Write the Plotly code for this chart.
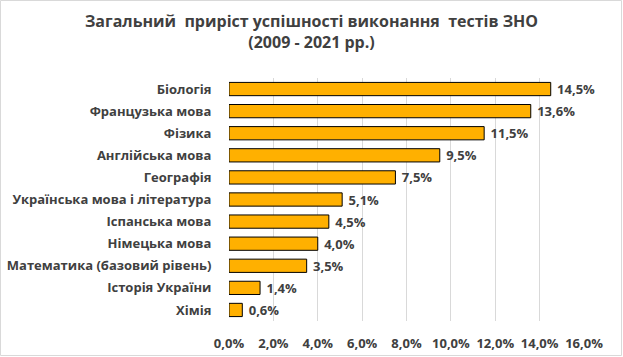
import plotly.graph_objects as go

categories = ["Біологія", "Французька мова", "Фізика", "Англійська мова", "Географія",
              "Українська мова і література", "Іспанська мова", "Німецька мова",
              "Математика (базовий рівень)", "Історія України", "Хімія"]
values = [14.5, 13.6, 11.5, 9.5, 7.5, 5.1, 4.5, 4.0, 3.5, 1.4, 0.6]
tick_values = [0, 2, 4, 6, 8, 10, 12, 14, 16]

def fmt(v):
    return f"{v:.1f}%".replace(".", ",")

FONT = "Open Sans"
DARK = "#404040"

fig = go.Figure(go.Bar(
    y=categories, x=values, orientation="h",
    marker=dict(color="#FFB000", line=dict(color="#000000", width=1)),
    text=["<b> " + fmt(v) + "</b>" for v in values], textposition="outside",
    textfont=dict(family=FONT, size=13, color=DARK), constraintext="none",
    cliponaxis=False, width=0.6,
))

W, H = 623, 357
l, r, t, b = 229, 39, 78, 36
pw, ph = W - l - r, H - t - b

fig.update_layout(
    width=W, height=H,
    margin=dict(l=l, r=r, t=t, b=b, autoexpand=False),
    paper_bgcolor="white", plot_bgcolor="white",
    showlegend=False,
    title=dict(text="<b>Загальний  приріст успішності виконання  тестів ЗНО<br>(2009 - 2021 рр.)</b>",
               x=0.5, xanchor="center", y=0.925, yanchor="top",
               font=dict(family=FONT, size=16, color=DARK)),
    xaxis=dict(range=[0, 16], tickvals=tick_values, ticktext=["<b>" + fmt(v) + "</b>" for v in tick_values],
               showgrid=True, gridcolor="#D9D9D9", gridwidth=1, zeroline=False,
               ticks="outside", ticklen=10, tickcolor="rgba(0,0,0,0)", automargin=False,
               tickfont=dict(family=FONT, size=13, color=DARK), showline=False),
    yaxis=dict(autorange="reversed", ticks="outside", ticklen=14, tickcolor="rgba(0,0,0,0)",
               tickfont=dict(family=FONT, size=13, color=DARK), showgrid=False, automargin=False,
               tickvals=categories, ticktext=["<b>" + c + "</b>" for c in categories]),
    shapes=[dict(type="rect", xref="paper", yref="paper",
                 x0=-(l - 0.5) / pw, x1=1 + (r - 1.5) / pw,
                 y0=-(b - 1.5) / ph, y1=1 + (t - 0.5) / ph,
                 line=dict(color="#D9D9D9", width=1), fillcolor="rgba(0,0,0,0)", layer="below")],
)

fig.write_html("out.html", config={"displayModeBar": False},
               post_script="document.body.style.margin='0';document.body.style.padding='0';")
